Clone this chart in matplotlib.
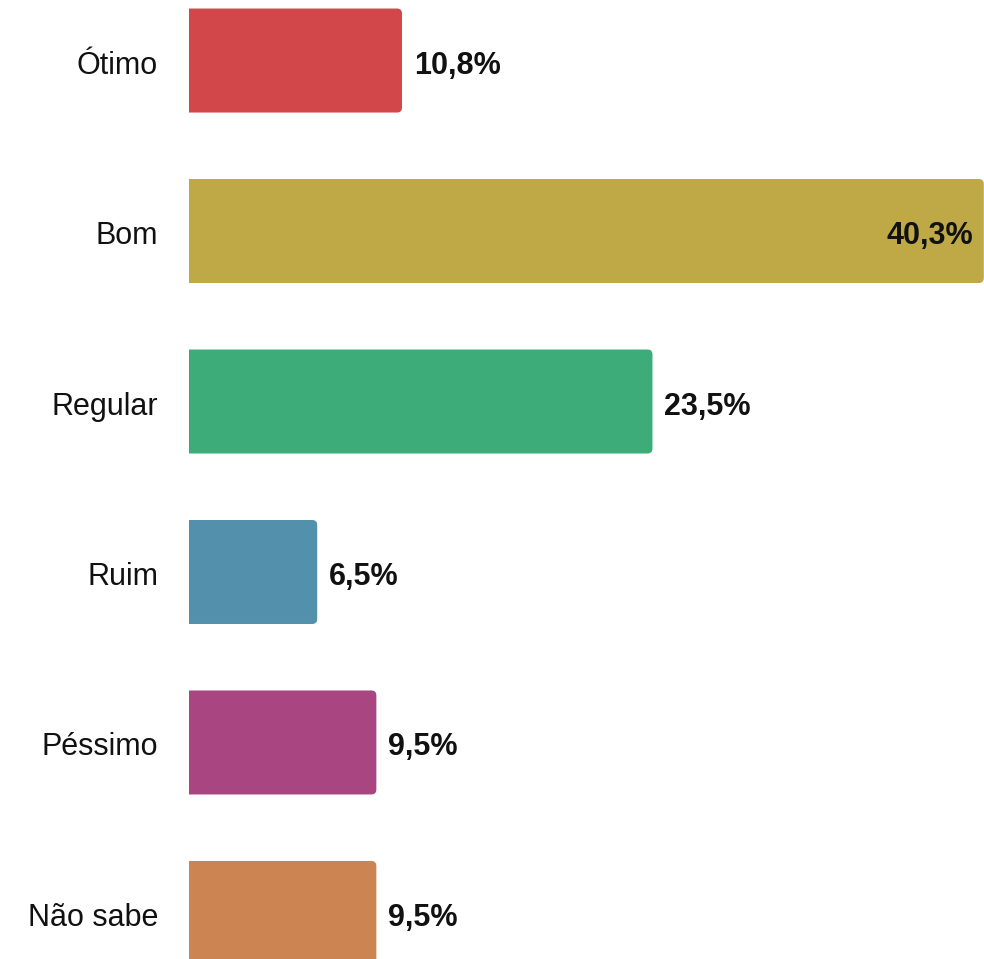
import matplotlib
matplotlib.use("Agg")
import matplotlib.pyplot as plt
from matplotlib.patches import FancyBboxPatch
from matplotlib.transforms import blended_transform_factory, offset_copy

categories = ["Ótimo", "Bom", "Regular", "Ruim", "Péssimo", "Não sabe"]
values = [10.8, 40.3, 23.5, 6.5, 9.5, 9.5]
labels = ["10,8%", "40,3%", "23,5%", "6,5%", "9,5%", "9,5%"]
colors = ["#d2474a", "#bfa947", "#3dac79", "#5390ac", "#a94681", "#cd8453"]

W, H = 984, 959
fig = plt.figure(figsize=(W / 100, H / 100), dpi=100)
left_px = 189
ax = fig.add_axes([left_px / W, 0, (W - left_px) / W, 1])

xmax = 40.31
ymin, ymax = -0.355, 5.27
ax.set_xlim(0, xmax)
ax.set_ylim(ymax, ymin)

px_x = (W - left_px) / xmax
px_y = H / (ymax - ymin)
r_px = 5
rs = r_px / px_x
aspect = (r_px / px_y) / rs

bar_h = 0.61
bars = ax.barh(range(len(categories)), values, height=bar_h, color=colors)
for b, c in zip(bars, colors):
    x0, y0 = b.get_x(), b.get_y()
    w, h = b.get_width(), b.get_height()
    b.set_visible(False)
    p = FancyBboxPatch((x0 - 1, y0), w + 1, h,
                       boxstyle=f"round,pad=0,rounding_size={rs}",
                       mutation_aspect=aspect, facecolor=c, edgecolor="none")
    ax.add_patch(p)

FONT = "Liberation Sans"
base_off = 13 / px_y  # baseline offset below bar centre (data units, y inverted)

for i, (v, lab) in enumerate(zip(values, labels)):
    if v > 35:
        ax.text(v - 11 / px_x, i + base_off, lab, ha="right", va="baseline",
                fontsize=22, fontweight="bold", family=FONT, color="#111111")
    else:
        ax.text(v + 12 / px_x, i + base_off, lab, ha="left", va="baseline",
                fontsize=22, fontweight="bold", family=FONT, color="#111111")

trans = blended_transform_factory(ax.transAxes, ax.transData)
trans = offset_copy(trans, fig=fig, x=-31, y=0, units="dots")
for i, cat in enumerate(categories):
    ax.text(0, i + base_off, cat, transform=trans, ha="right", va="baseline",
            fontsize=22, family=FONT, color="#111111")

ax.set_yticks([])
ax.set_xticks([])
for s in ax.spines.values():
    s.set_visible(False)

fig.savefig("out.png", dpi=100)
